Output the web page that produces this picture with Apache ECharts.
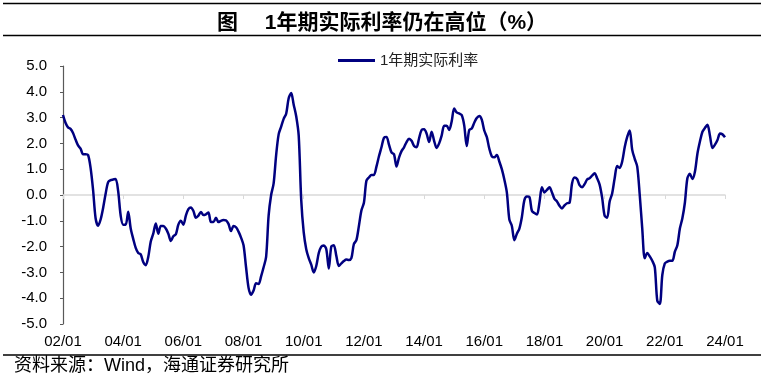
<!DOCTYPE html>
<html>
<head>
<meta charset="utf-8">
<script src="https://cdn.jsdelivr.net/npm/echarts@6/dist/echarts.min.js"></script>
<style>
html,body{margin:0;padding:0;background:#fff;}
#chart{width:764px;height:380px;}
</style>
</head>
<body>
<div id="chart"></div>
<script>
// Monthly categories from 2002/01 through 2024/01
const startYear = 2002;
const monthCount = 265;
const seriesName = '1年期实际利率';
const titleText = '图\u3000 1年期实际利率仍在高位（%）';
const sourceText = '资料来源：Wind，海通证券研究所';
const yTicks = [-5, 5, 1]; // min, max, interval

// 1年期实际利率 (%), monthly
const realRate = [
  3.10, 2.80, 2.62, 2.56, 2.40, 2.15, 1.92, 1.80, 1.58, 1.58,
  1.55, 1.05, 0.19, -0.90, -1.19, -0.95, -0.50, 0.05, 0.50, 0.58,
  0.60, 0.62, 0.15, -0.80, -1.15, -1.15, -0.65, -1.30, -1.70, -2.05,
  -2.25, -2.30, -2.60, -2.72, -2.40, -1.80, -1.50, -1.10, -1.50, -1.20,
  -1.20, -1.30, -1.50, -1.78, -1.60, -1.52, -1.15, -1.00, -1.15, -0.80,
  -0.55, -0.48, -0.62, -0.88, -0.80, -0.66, -0.78, -0.75, -0.68, -1.05,
  -1.05, -0.88, -1.05, -1.00, -0.97, -0.98, -1.12, -1.40, -1.20, -1.25,
  -1.42, -1.65, -1.95, -2.80, -3.60, -3.87, -3.70, -3.42, -3.45, -3.15,
  -2.80, -2.40, -0.80, 0.00, 0.45, 1.55, 2.35, 2.65, 2.95, 3.15,
  3.75, 3.95, 3.50, 3.05, 2.30, -0.19, -1.45, -2.10, -2.45, -2.70,
  -3.00, -2.75, -2.25, -2.00, -1.96, -2.10, -2.85, -2.00, -1.95, -2.36,
  -2.75, -2.65, -2.56, -2.50, -2.52, -2.45, -1.90, -1.75, -1.20, -0.60,
  -0.30, 0.55, 0.68, 0.78, 0.78, 1.10, 1.50, 1.85, 2.22, 2.25,
  1.95, 1.65, 1.58, 1.10, 1.45, 1.70, 1.85, 2.05, 2.18, 2.10,
  1.90, 1.85, 2.20, 2.52, 2.55, 2.38, 2.05, 2.45, 2.10, 1.82,
  2.00, 2.30, 2.68, 2.68, 2.52, 2.85, 3.35, 3.20, 3.16, 3.10,
  2.70, 1.90, 2.52, 2.58, 2.80, 2.98, 3.06, 2.92, 2.50, 2.25,
  1.80, 1.50, 1.46, 1.55, 1.30, 1.00, 0.60, 0.10, -0.95, -1.20,
  -1.75, -1.50, -1.30, -0.85, -0.20, -0.06, -0.08, -0.62, -0.70, -0.76,
  -0.30, 0.30, 0.10, 0.20, 0.30, 0.10, -0.15, -0.25, -0.42, -0.52,
  -0.40, -0.32, -0.30, 0.45, 0.68, 0.62, 0.38, 0.30, 0.42, 0.60,
  0.65, 0.75, 0.84, 0.65, 0.40, -0.10, -0.80, -0.88, -0.25, 0.06,
  0.65, 1.12, 1.05, 1.30, 1.85, 2.25, 2.50, 1.75, 1.40, 1.10,
  0.00, -1.30, -2.45, -2.25, -2.38, -2.55, -2.80, -4.10, -4.22, -3.10,
  -2.65, -2.58, -2.55, -2.55, -2.20, -1.95, -1.30, -0.90, -0.30, 0.65,
  0.82, 0.62, 0.90, 1.60, 2.07, 2.45, 2.60, 2.72, 2.30, 1.82,
  1.95, 2.13, 2.38, 2.35, 2.24
];

const categories = [];
for (let i = 0; i < monthCount; i++) {
  const y = startYear + Math.floor(i / 12);
  const m = (i % 12) + 1;
  categories.push(String(y % 100).padStart(2, '0') + '/' + String(m).padStart(2, '0'));
}

const chart = echarts.init(document.getElementById('chart'), null, {renderer: 'canvas'});
const latin = 'Liberation Sans, Arial, sans-serif';
const cjk = '"Liberation Sans", "Noto Sans CJK SC", sans-serif';

chart.setOption({
  animation: false,
  backgroundColor: '#ffffff',
  title: {
    text: titleText,
    left: 'center',
    top: 8,
    textStyle: {fontSize: 21, fontWeight: 'bold', color: '#000', fontFamily: cjk}
  },
  legend: {
    data: [seriesName],
    left: 333,
    top: 48,
    icon: 'rect',
    itemWidth: 37,
    itemHeight: 3,
    itemGap: 4,
    textStyle: {fontSize: 15, color: '#222', fontFamily: cjk}
  },
  grid: {left: 63, right: 39, top: 66, bottom: 56, containLabel: false, outerBoundsMode: 'none'},
  xAxis: [
    {
      type: 'category',
      data: categories,
      boundaryGap: false,
      position: 'bottom',
      axisLine: {onZero: true, lineStyle: {color: '#d9d9d9', width: 1.5}},
      axisTick: {show: true, interval: 23, length: 4, lineStyle: {color: '#d9d9d9'}},
      axisLabel: {show: false},
      splitLine: {show: false}
    },
    {
      type: 'category',
      data: categories,
      boundaryGap: false,
      position: 'bottom',
      axisLine: {show: false, onZero: false},
      axisTick: {show: false},
      axisLabel: {show: true, interval: 23, margin: 10, fontSize: 15, color: '#000', fontFamily: latin},
      splitLine: {show: false}
    }
  ],
  yAxis: {
    type: 'value',
    min: yTicks[0],
    max: yTicks[1],
    interval: yTicks[2],
    axisLine: {show: true, lineStyle: {color: '#595959', width: 1.2}},
    axisTick: {show: true, length: 3, lineStyle: {color: '#595959'}},
    axisLabel: {margin: 16, fontSize: 15, color: '#000', fontFamily: latin,
      formatter: v => v.toFixed(1)},
    splitLine: {show: false}
  },
  series: [{
    name: seriesName,
    type: 'line',
    xAxisIndex: 0,
    data: realRate,
    showSymbol: false,
    symbol: 'none',
    smooth: 0.3,
    lineStyle: {color: '#000080', width: 2.5},
    itemStyle: {color: '#000080'}
  }],
  graphic: [
    {type: 'line', shape: {x1: 3, y1: 3.5, x2: 761, y2: 3.5}, style: {stroke: '#000', lineWidth: 1.5}},
    {type: 'line', shape: {x1: 3, y1: 35.5, x2: 761, y2: 35.5}, style: {stroke: '#000', lineWidth: 1.5}},
    {type: 'line', shape: {x1: 3, y1: 355, x2: 761, y2: 355}, style: {stroke: '#000', lineWidth: 1.5}},
    {type: 'text', left: 14, top: 357, style: {text: sourceText, fill: '#000', font: '18px "Liberation Sans", "Noto Sans CJK SC", sans-serif'}}
  ]
});
</script>
</body>
</html>
